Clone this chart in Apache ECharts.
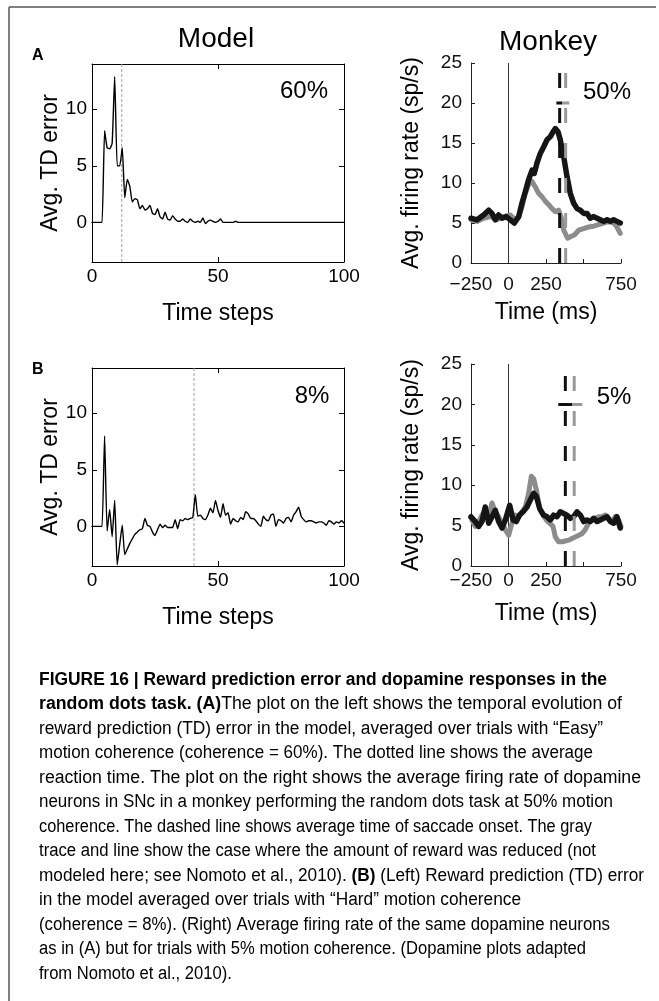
<!DOCTYPE html>
<html>
<head>
<meta charset="utf-8">
<script src="https://cdn.jsdelivr.net/npm/echarts@6/dist/echarts.min.js"></script>
<style>
  html, body { margin: 0; padding: 0; background: #fff; }
  #chart { width: 659px; height: 1001px; }
</style>
</head>
<body>
<div id="chart"></div>
<script>
// ---------------- data ----------------
// Model: average TD error per time step (steps 0..100)
const tdEasy60 = [
  0, 0, 0, 0, 0, 8.1, 6.6, 6.5, 7.0, 12.9,
  5.0, 5.0, 6.6, 2.2, 3.8, 3.2, 1.8, 2.1, 2.0, 1.2,
  1.5, 1.1, 1.2, 1.5, 0.8, 0.7, 1.2, 0.5, 0.3, 0.9,
  0.3, 0.2, 0.6, 0.3, 0.1, 0.1, 0.3, 0.1, 0.0, 0.3,
  0.1, 0.0, 0.1, 0.0, 0.4, -0.1, 0.1, 0.2, 0.1, 0.0,
  0.1, 0.3, 0.0, 0.0, 0.0, 0.0, 0.0, 0.1, 0, 0,
  0, 0, 0, 0, 0, 0, 0, 0, 0, 0,
  0, 0, 0, 0, 0, 0, 0, 0, 0, 0,
  0, 0, 0, 0, 0, 0, 0, 0, 0, 0,
  0, 0, 0, 0, 0, 0, 0, 0, 0, 0,
  0
];
const tdHard8 = [
  0, 0, 0, 0, 0, 8.0, -0.4, 1.5, -0.9, 2.3,
  -3.4, -1.6, 0.1, -2.5, -2.0, -1.5, -1.1, -0.7, -0.5, -0.3,
  -0.2, 0.7, 0.1, 0.0, -0.5, -0.8, -0.3, 0.2, -0.1, 0.1,
  -0.1, -0.1, -0.1, 0.6, -0.2, 0.6, 0.5, 0.7, 0.6, 0.7,
  0.8, 2.8, 0.9, 1.0, 0.7, 0.6, 1.0, 1.6, 1.2, 2.3,
  1.4, 0.8, 2.0, 1.0, 1.2, 0.2, 0.7, 0.5, 0.4, 0.8,
  0.6, 1.3, 1.1, 0.7, 0.7, 0.5, 0.2, 0.0, 0.9, 0.6,
  0.5, 1.0, 1.1, 0.0, 0.6, 0.5, 0.3, 0.7, 0.8, 0.4,
  1.0, 1.3, 1.7, 0.9, 0.6, 0.4, 0.5, 0.5, 0.4, 0.3,
  0.4, 0.4, 0.3, 0.1, 0.5, 0.4, 0.2, 0.4, 0.3, 0.5,
  0.3
];
// average reaction time (time steps)
const rtEasy = 11.8;
const rtHard = 40.5;

// Monkey: firing rate (sp/s) vs time from motion onset (ms)
const rateEasyFull = [
  [-250, 5.6], [-210, 5.4], [-166, 6.0], [-132, 6.6], [-110, 6.2], [-88, 5.4], [-66, 6.0], [-43, 5.6],
  [-15, 5.8], [12, 5.4], [39, 5.0], [68, 5.8], [90, 7.5], [112, 8.9], [134, 10.4], [157, 11.6],
  [172, 11.2], [190, 12.5], [212, 13.7], [234, 14.5], [257, 15.4], [279, 15.8], [297, 16.4], [312, 16.8],
  [330, 16.4], [345, 15.4], [368, 13.3], [390, 10.8], [412, 8.7], [434, 7.5], [457, 6.8], [479, 6.6],
  [501, 6.2], [523, 6.2], [545, 5.6], [568, 5.8], [590, 5.6], [612, 5.4], [634, 5.2], [657, 5.4],
  [679, 5.2], [701, 5.4], [723, 5.2], [745, 5.0]
];
const rateEasySmall = [
  [-250, 5.4], [-210, 5.2], [-166, 5.6], [-121, 5.8], [-77, 5.4], [-32, 5.8], [12, 6.0], [46, 5.4],
  [68, 5.8], [90, 7.0], [112, 8.7], [134, 9.8], [157, 10.2], [179, 9.5], [201, 8.7], [223, 8.3],
  [246, 7.7], [268, 7.3], [290, 6.8], [312, 6.4], [334, 6.6], [350, 5.8], [368, 4.1], [394, 3.1],
  [416, 3.3], [439, 3.5], [468, 4.1], [501, 4.3], [534, 4.5], [568, 4.6], [601, 4.8], [634, 5.0],
  [668, 5.2], [701, 5.0], [723, 4.5], [745, 3.7]
];
const rateHardFull = [
  [-250, 6.1], [-222, 5.5], [-199, 4.9], [-177, 5.5], [-155, 7.3], [-132, 5.3], [-110, 6.1], [-88, 6.9],
  [-66, 5.5], [-43, 4.7], [-21, 5.7], [8, 7.5], [30, 5.7], [52, 5.5], [74, 6.3], [97, 6.7],
  [123, 7.3], [146, 8.2], [168, 9.0], [186, 8.6], [208, 7.1], [234, 6.3], [257, 6.1], [279, 5.7],
  [301, 6.3], [323, 6.1], [345, 6.7], [368, 6.5], [390, 6.3], [412, 5.9], [434, 6.1], [457, 6.7],
  [479, 6.3], [501, 5.5], [523, 5.7], [545, 5.5], [568, 5.9], [590, 5.5], [612, 5.7], [634, 5.9],
  [657, 6.1], [679, 5.5], [701, 5.3], [723, 6.1], [745, 4.7]
];
const rateHardSmall = [
  [-250, 5.9], [-222, 4.9], [-199, 5.5], [-177, 6.3], [-155, 6.9], [-132, 6.1], [-110, 7.8], [-88, 6.7],
  [-66, 6.1], [-43, 5.3], [-21, 4.5], [1, 3.8], [23, 5.3], [46, 6.3], [68, 6.1], [90, 6.7],
  [112, 7.3], [134, 9.0], [152, 11.1], [168, 10.8], [186, 9.4], [208, 7.1], [230, 6.3], [252, 5.7],
  [274, 5.3], [297, 4.9], [312, 3.6], [334, 3.0], [357, 3.0], [379, 3.1], [401, 3.2], [423, 3.4],
  [445, 3.6], [468, 3.8], [490, 4.0], [512, 4.5], [534, 5.3], [557, 5.7], [579, 5.9], [601, 6.1],
  [623, 6.1], [646, 6.3], [668, 5.9], [690, 5.5], [712, 6.1], [734, 5.7], [750, 4.9]
];
// average saccade onset (ms): [full reward, reduced reward]
const saccadeEasy = [341, 381];
const saccadeHard = [379, 438];
// short horizontal marker at 20 sp/s: [start, split, end] in ms
const markerEasy = [319, 359, 405];
const markerHard = [332, 425, 492];

// tick values and labels
const tdTicks = [0, 5, 10];
const msTickLabels = { '-250': '\u2212250', '0': '0', '250': '250', '500': '', '750': '750' };
const panelTitles = ['Model', 'Monkey'];
const panelLetters = ['A', 'B'];
const coherenceLabels = ['60%', '50%', '8%', '5%'];

// caption: each line is a list of [style, text] runs
const captionLines = [
  [['b', 'FIGURE 16 | Reward prediction error and dopamine responses in the']],
  [['b', 'random dots task. (A)'], ['n', 'The plot on the left shows the temporal evolution of']],
  [['n', 'reward prediction (TD) error in the model, averaged over trials with \u201cEasy\u201d']],
  [['n', 'motion coherence (coherence = 60%). The dotted line shows the average']],
  [['n', 'reaction time. The plot on the right shows the average firing rate of dopamine']],
  [['n', 'neurons in SNc in a monkey performing the random dots task at 50% motion']],
  [['n', 'coherence. The dashed line shows average time of saccade onset. The gray']],
  [['n', 'trace and line show the case where the amount of reward was reduced (not']],
  [['n', 'modeled here; see '], ['c', 'Nomoto et al., 2010'], ['n', '). '], ['b', '(B)'], ['n', ' (Left) Reward prediction (TD) error']],
  [['n', 'in the model averaged over trials with \u201cHard\u201d motion coherence']],
  [['n', '(coherence = 8%). (Right) Average firing rate of the same dopamine neurons']],
  [['n', 'as in (A) but for trials with 5% motion coherence. (Dopamine plots adapted']],
  [['n', 'from '], ['c', 'Nomoto et al., 2010'], ['n', ').']]
];

// ---------------- styling ----------------
const FONT = '"Liberation Sans", Arial, Helvetica, sans-serif';
const TICK_FS = 19;
const NAME_FS = 23;
const AXIS_COLOR = '#000';
const MONKEY_AXIS = '#222';

const chart = echarts.init(document.getElementById('chart'), null, { renderer: 'canvas' });

const grids = [
  { left: 92, top: 64, width: 252, height: 198 },
  { left: 471, top: 63, width: 150, height: 200 },
  { left: 92, top: 368, width: 252, height: 198 },
  { left: 471, top: 364, width: 150, height: 202 }
].map(g => Object.assign({ outerBoundsMode: 'none', containLabel: false }, g));

function stepAxis(gridIndex, top) {
  return {
    type: 'value', gridIndex, min: 0, max: 100, interval: 50,
    position: top ? 'top' : 'bottom',
    axisLine: { show: true, onZero: false, lineStyle: { color: AXIS_COLOR, width: 1 } },
    axisTick: { show: true, inside: true, length: 5, lineStyle: { color: AXIS_COLOR } },
    axisLabel: { show: !top, margin: 5, fontSize: TICK_FS, fontFamily: FONT, color: '#000' },
    splitLine: { show: false },
    name: top ? '' : 'Time steps', nameLocation: 'middle', nameGap: 40,
    nameTextStyle: { fontSize: NAME_FS, fontFamily: FONT, color: '#000' }
  };
}
function tdAxis(gridIndex, right) {
  return {
    type: 'value', gridIndex, min: -3.5, max: 14,
    position: right ? 'right' : 'left',
    axisLine: { show: true, onZero: false, lineStyle: { color: AXIS_COLOR, width: 1 } },
    axisTick: { show: true, inside: true, length: 5, customValues: tdTicks, lineStyle: { color: AXIS_COLOR } },
    axisLabel: { show: !right, margin: 5, customValues: tdTicks, fontSize: TICK_FS, fontFamily: FONT, color: '#000' },
    splitLine: { show: false },
    name: right ? '' : 'Avg. TD error', nameLocation: 'middle', nameGap: 30,
    nameTextStyle: { fontSize: NAME_FS, fontFamily: FONT, color: '#000' }
  };
}
function msAxis(gridIndex, margin, nameGap) {
  return {
    type: 'value', gridIndex, min: -250, max: 750, interval: 250,
    axisLine: { show: true, onZero: false, lineStyle: { color: MONKEY_AXIS, width: 1 } },
    axisTick: { show: true, inside: true, length: 4, lineStyle: { color: MONKEY_AXIS } },
    axisLabel: {
      margin, fontSize: TICK_FS, fontFamily: FONT, color: '#111',
      formatter: v => msTickLabels[String(v)] !== undefined ? msTickLabels[String(v)] : String(v)
    },
    splitLine: { show: false },
    name: 'Time (ms)', nameLocation: 'middle', nameGap,
    nameTextStyle: { fontSize: NAME_FS, fontFamily: FONT, color: '#000' }
  };
}
function rateAxis(gridIndex) {
  return {
    type: 'value', gridIndex, min: 0, max: 25, interval: 5,
    axisLine: { show: true, onZero: false, lineStyle: { color: MONKEY_AXIS, width: 1 } },
    axisTick: { show: true, inside: true, length: 4, lineStyle: { color: MONKEY_AXIS } },
    axisLabel: { margin: 9, fontSize: TICK_FS, fontFamily: FONT, color: '#111' },
    splitLine: { show: false },
    name: 'Avg. firing rate (sp/s)', nameLocation: 'middle', nameGap: 48,
    nameTextStyle: { fontSize: NAME_FS, fontFamily: FONT, color: '#000' }
  };
}

const xAxis = [stepAxis(0, false), stepAxis(0, true), msAxis(1, 12, 38), stepAxis(2, false), stepAxis(2, true), msAxis(3, 5, 36)];
const yAxis = [tdAxis(0, false), tdAxis(0, true), rateAxis(1), tdAxis(2, false), tdAxis(2, true), rateAxis(3)];

function line(xi, yi, data, style, extra) {
  return Object.assign({
    type: 'line', xAxisIndex: xi, yAxisIndex: yi, data,
    symbol: 'none', showSymbol: false, silent: true, animation: false,
    lineStyle: Object.assign({ join: 'round', cap: 'round' }, style)
  }, extra || {});
}

function modelSeries(xi, yi, values, rt) {
  return [
    line(xi, yi, [[rt, -3.5], [rt, 14]], { color: '#a0a0a0', width: 1, type: [3, 2], cap: 'butt' }),
    line(xi, yi, values.map((v, i) => [i, v]), { color: '#000', width: 1.4 }, { smooth: 0.15 })
  ];
}
function monkeySeries(xi, yi, full, small, sacc, marker) {
  return [
    line(xi, yi, [[0, 0], [0, 25]], { color: '#333', width: 1, cap: 'butt' }),
    line(xi, yi, small, { color: '#8c8c8c', width: 5 }),
    line(xi, yi, full, { color: '#151515', width: 5.5 }),
    line(xi, yi, [[sacc[0], 0], [sacc[0], 25]], { color: '#111', width: 3, type: [15, 20], cap: 'butt' }),
    line(xi, yi, [[sacc[1], 0], [sacc[1], 25]], { color: '#999', width: 3, type: [15, 20], cap: 'butt' }),
    line(xi, yi, [[marker[0], 20], [marker[1], 20]], { color: '#111', width: 3, cap: 'butt' }),
    line(xi, yi, [[marker[1], 20], [marker[2], 20]], { color: '#999', width: 3, cap: 'butt' })
  ];
}

const series = [].concat(
  modelSeries(0, 0, tdEasy60, rtEasy),
  monkeySeries(2, 2, rateEasyFull, rateEasySmall, saccadeEasy, markerEasy),
  modelSeries(3, 3, tdHard8, rtHard),
  monkeySeries(5, 5, rateHardFull, rateHardSmall, saccadeHard, markerHard)
);

// ---------------- caption layout ----------------
const CAP_FS = 18;
const CAP_X = 39;
const CAP_TOP = 680;
const CAP_STEP = 24.5;
// right edge of each set line of the ragged-right caption (null: keep the previous line's condensing)
const CAP_RIGHT = [607, 622, 603, 593, 641, 613, 592, 596, 644, 521, 610, 586, null];
const capStyles = {
  b: { fontWeight: 'bold', color: '#1a1a1a' },
  n: { fontWeight: 'normal', color: '#3a3a3a' },
  c: { fontWeight: 'normal', color: '#8a8a8a' }
};
const measureCtx = document.createElement('canvas').getContext('2d');
function runWidth(runs) {
  return runs.reduce((w, r) => {
    measureCtx.font = (capStyles[r[0]].fontWeight === 'bold' ? 'bold ' : '') + CAP_FS + 'px ' + FONT;
    return w + measureCtx.measureText(r[1]).width;
  }, 0);
}
const rich = {};
Object.keys(capStyles).forEach(k => {
  rich[k] = Object.assign({ fontSize: CAP_FS, fontFamily: FONT }, capStyles[k]);
});
// each line is condensed horizontally to its set width
let lastScale = 0.93;
const captionTexts = captionLines.map((runs, i) => {
  const scale = CAP_RIGHT[i] ? (CAP_RIGHT[i] - CAP_X) / runWidth(runs) : lastScale;
  lastScale = scale;
  return {
    type: 'text', x: CAP_X, y: CAP_TOP + i * CAP_STEP, silent: true,
    scaleX: scale,
    style: {
      text: runs.map(r => '{' + r[0] + '|' + r[1] + '}').join(''),
      rich, fontSize: CAP_FS, fontFamily: FONT,
      verticalAlign: 'middle', align: 'left'
    }
  };
});

function label(text, x, y, size, bold, align) {
  return {
    type: 'text', x, y, silent: true,
    style: {
      text, fontSize: size, fontFamily: FONT, fontWeight: bold ? 'bold' : 'normal',
      fill: '#000', align: align || 'center', verticalAlign: 'middle'
    }
  };
}

const graphic = [
  // figure frame (top and left rules)
  { type: 'line', silent: true, shape: { x1: 9, y1: 7, x2: 656, y2: 7 }, style: { stroke: '#555', lineWidth: 1.5 } },
  { type: 'line', silent: true, shape: { x1: 9, y1: 7, x2: 9, y2: 1001 }, style: { stroke: '#555', lineWidth: 1.5 } },
  label(panelTitles[0], 216, 39, 28, false),
  label(panelTitles[1], 548, 42, 28, false),
  label(panelLetters[0], 32, 56, 16, true, 'left'),
  label(panelLetters[1], 32, 370, 16, true, 'left'),
  label(coherenceLabels[0], 304, 91, 24, false),
  label(coherenceLabels[1], 607, 92, 24, false),
  label(coherenceLabels[2], 312, 396, 24, false),
  label(coherenceLabels[3], 614, 397, 24, false)
].concat(captionTexts);

chart.setOption({
  animation: false,
  backgroundColor: '#fff',
  grid: grids,
  xAxis,
  yAxis,
  series,
  graphic
});
</script>
</body>
</html>
